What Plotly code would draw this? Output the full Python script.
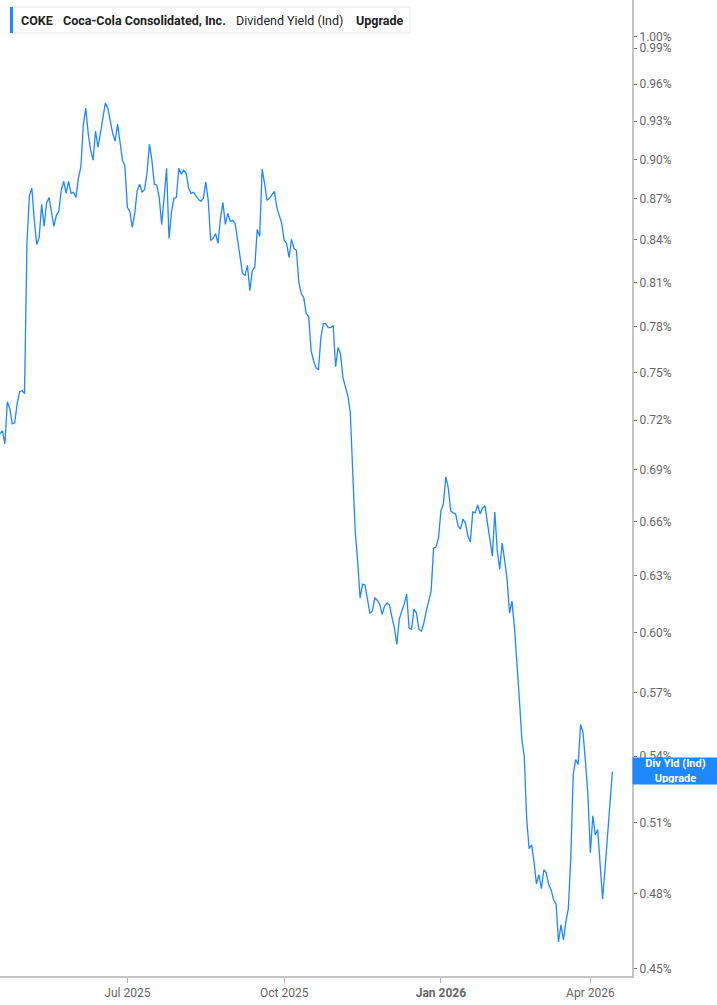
import numpy as np
import pandas as pd
import plotly.graph_objects as go

# Dividend yield (%) per trading day, 2025-04-15 .. 2026-04-15
values = [
    0.7116, 0.7134, 0.7055, 0.7314, 0.7270, 0.7177, 0.7183, 0.7301, 0.7377, 0.7383, 0.7364,
    0.8375, 0.8727, 0.8780, 0.8542, 0.8368, 0.8419, 0.8660, 0.8498, 0.8668, 0.8712,
    0.8594, 0.8498, 0.8579, 0.8608, 0.8765, 0.8833, 0.8742, 0.8833, 0.8742, 0.8750,
    0.8712, 0.8856, 0.8940, 0.9268, 0.9404, 0.9204, 0.9071, 0.8994, 0.9220, 0.9094,
    0.9204, 0.9332, 0.9445, 0.9404, 0.9308, 0.9204, 0.9141, 0.9276,
    0.9133, 0.8994, 0.8948, 0.8638, 0.8608, 0.8491, 0.8594, 0.8765, 0.8811, 0.8750,
    0.8772, 0.8894, 0.9118, 0.8994, 0.8811, 0.8803, 0.8712, 0.8513, 0.8712, 0.8932,
    0.8411, 0.8601, 0.8705, 0.8712, 0.8932, 0.8886, 0.8917, 0.8894, 0.8780, 0.8742,
    0.8750, 0.8720, 0.8697, 0.8683, 0.8705, 0.8826, 0.8690, 0.8397, 0.8411, 0.8447,
    0.8375, 0.8557, 0.8675, 0.8513, 0.8594, 0.8535, 0.8542, 0.8520, 0.8397, 0.8275,
    0.8163, 0.8149, 0.8219, 0.8044, 0.8184, 0.8205, 0.8476, 0.8426, 0.8925, 0.8818,
    0.8690, 0.8705, 0.8727, 0.8757, 0.8638, 0.8579, 0.8520, 0.8397, 0.8375, 0.8275,
    0.8404, 0.8339, 0.8325, 0.8100, 0.8024, 0.7996, 0.7887, 0.7867, 0.7641, 0.7575,
    0.7530, 0.7517, 0.7727, 0.7820, 0.7820, 0.7793, 0.7793, 0.7807, 0.7537, 0.7661,
    0.7621, 0.7466, 0.7402, 0.7351, 0.7245, 0.6852, 0.6547, 0.6381, 0.6182,
    0.6256, 0.6251, 0.6177, 0.6103, 0.6113, 0.6182, 0.6171, 0.6150, 0.6097, 0.6140,
    0.6156, 0.6145, 0.6082, 0.6025, 0.5942, 0.6071, 0.6113, 0.6150, 0.6203, 0.6025,
    0.6019, 0.6124, 0.6103, 0.6019, 0.6009, 0.6050, 0.6113, 0.6166, 0.6219, 0.6452,
    0.6458, 0.6508, 0.6661, 0.6701, 0.6858, 0.6793, 0.6661, 0.6650, 0.6644, 0.6576,
    0.6558, 0.6615, 0.6592, 0.6519, 0.6486, 0.6655, 0.6650, 0.6695, 0.6644, 0.6678,
    0.6690,
    0.6592, 0.6491, 0.6408, 0.6655, 0.6436, 0.6337, 0.6480, 0.6386, 0.6283, 0.6103,
    0.6166, 0.6030, 0.5871, 0.5674, 0.5482, 0.5398, 0.5118, 0.4988, 0.5005, 0.4933,
    0.4840, 0.4878, 0.4820, 0.4899, 0.4886, 0.4836, 0.4815, 0.4774, 0.4758, 0.4605,
    0.4673, 0.4613, 0.4685, 0.4738, 0.4946, 0.5315, 0.5384, 0.5361, 0.5548, 0.5510,
    0.5375, 0.5224, 0.4971, 0.5131, 0.5048, 0.5070, 0.4920, 0.4778, 0.4903, 0.5048,
    0.5184, 0.5329,
]

holidays = ["2025-04-18", "2025-05-26", "2025-06-19", "2025-07-04", "2025-09-01",
            "2025-11-27", "2025-12-25", "2026-01-01", "2026-01-19", "2026-02-16",
            "2026-04-03"]
start_date = "2025-04-15"
x_end = "2026-04-27"

x_tickvals = ["2025-07-01", "2025-10-01", "2026-01-02", "2026-04-01"]
x_ticktext = ["Jul 2025", "Oct 2025", "<b>Jan 2026</b>", "Apr 2026"]

y_tickvals = [0.45, 0.48, 0.51, 0.54, 0.57, 0.60, 0.63, 0.66, 0.69, 0.72, 0.75,
              0.78, 0.81, 0.84, 0.87, 0.90, 0.93, 0.96, 0.99, 1.00]
y_ticktext = [f"{v:.2f}%" for v in y_tickvals]
y_range = [0.4473, 1.0316]

bdays = pd.bdate_range(start_date, "2026-06-30")
tdays = bdays[~bdays.isin(pd.to_datetime(holidays))][:len(values)]

LINE = "#1e88ff"
FONT = "Roboto"

fig = go.Figure()
fig.add_trace(go.Scatter(x=tdays, y=values, mode="lines",
                         line=dict(color=LINE, width=1.3), hoverinfo="x+y"))

W, H = 717, 1005
L, R, T, B = 0, 85, 0, 29
PW, PH = W - L - R, H - T - B

def px(x):
    return x / PW

def py(y):
    return 1 - y / PH

fig.update_layout(
    width=W, height=H, autosize=False,
    margin=dict(l=L, r=R, t=T, b=B),
    paper_bgcolor="white", plot_bgcolor="white",
    showlegend=False,
    font=dict(family=FONT, size=12, color="#666"),
    xaxis=dict(
        type="date",
        range=[start_date, x_end],
        rangebreaks=[dict(bounds=["sat", "mon"]), dict(values=holidays)],
        tickvals=x_tickvals, ticktext=x_ticktext,
        showline=True, linecolor="#c4c4c4", linewidth=2,
        ticks="outside", ticklen=5, tickcolor="#b0b0b0", tickwidth=1,
        tickfont=dict(family=FONT, size=12, color="#666"),
        showgrid=False, zeroline=False,
    ),
    yaxis=dict(
        type="log", side="right",
        range=[np.log10(y_range[0]), np.log10(y_range[1])],
        tickvals=y_tickvals, ticktext=y_ticktext,
        showline=True, linecolor="#c4c4c4", linewidth=2,
        ticks="outside", ticklen=3, tickcolor="#777", tickwidth=1,
        tickfont=dict(family=FONT, size=12, color="#666"),
        showgrid=False, zeroline=False,
    ),
)

# header legend box
fig.add_shape(type="rect", xref="paper", yref="paper",
              x0=px(10), x1=px(410), y0=py(33), y1=py(7),
              line=dict(color="#e8e8e8", width=1), fillcolor="white", layer="above")
fig.add_shape(type="rect", xref="paper", yref="paper",
              x0=px(10), x1=px(13), y0=py(33), y1=py(7),
              line=dict(width=0), fillcolor=LINE, layer="above")

header = [
    (19, "<b>COKE</b>"),
    (61, "<b>Coca-Cola Consolidated, Inc.</b>"),
    (234, "Dividend Yield (Ind)"),
    (354, "<b>Upgrade</b>"),
]
for hx, txt in header:
    fig.add_annotation(xref="paper", yref="paper", x=px(hx), y=py(20.5),
                       xanchor="left", yanchor="middle", text=txt, showarrow=False,
                       font=dict(family=FONT, size=12.5, color="#222"))

# last value label
fig.add_annotation(xref="paper", yref="y", x=1.0, y=np.log10(values[-1]),
                   xanchor="left", yanchor="middle",
                   text="<b>Div Yld (Ind)</b><br><b>Upgrade</b>", showarrow=False,
                   bgcolor=LINE, borderpad=1, width=83, height=24, align="center",
                   font=dict(family=FONT, size=11, color="white"))

fig.write_html("out.html",
               config={"displayModeBar": False},
               post_script="document.body.style.margin='0px';document.body.style.overflow='hidden';")
